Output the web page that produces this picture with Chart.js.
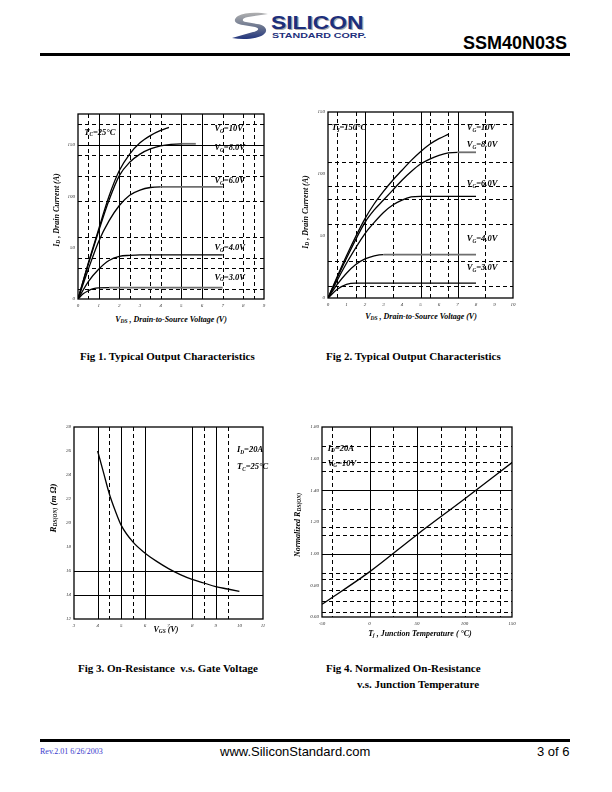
<!DOCTYPE html>
<html>
<head>
<meta charset="utf-8">
<title>SSM40N03S - page 3</title>
<script src="https://cdn.jsdelivr.net/npm/chart.js@4.4.1/dist/chart.umd.min.js"></script>
<style>
  html, body { margin: 0; padding: 0; background: #fff; }
  body { position: relative; width: 612px; height: 792px; overflow: hidden; font-family: "Liberation Serif", "Times New Roman", serif; color: #000; }
  .abs { position: absolute; white-space: nowrap; }
  canvas { position: absolute; }
  .cap { font-weight: bold; font-size: 11px; line-height: 12px; }
  .ttl { font: italic bold 8px "Liberation Serif", serif; line-height: 10px; }
  .ttl sub { font-size: 5.5px; vertical-align: -1px; line-height: 0; }
  .vt { transform: translate(-50%, -50%) rotate(-90deg); }
  .ht { transform: translate(-50%, -50%); }
  .logo1 { font: bold 19px "Liberation Sans", Arial, sans-serif; color: #1d2f7c; transform: scaleX(1.2); transform-origin: 0 0; text-shadow: 1px 1px 0 #a8a8a8; line-height: 19px; }
  .logo2 { font: bold 8px "Liberation Sans", Arial, sans-serif; color: #1d2f7c; transform: scaleX(1.33); transform-origin: 0 0; line-height: 8px; }
</style>
</head>
<body>

<!-- header -->
<svg class="abs" style="left:231px;top:12px" width="38" height="28" viewBox="0 0 38 28">
  <defs>
    <linearGradient id="sw" x1="0" y1="0" x2="0" y2="1">
      <stop offset="0" stop-color="#b0b0b0"/>
      <stop offset="0.5" stop-color="#707a90"/>
      <stop offset="1" stop-color="#22357e"/>
    </linearGradient>
  </defs>
  <path d="M37 2 C27 0 14 0 7 4 C1 8 4 12 12 13 L24 15 C29 16 28 19 22 20 L1 26 C12 28 26 27 32 23 C38 19 35 13 26 12 L15 10 C10 9 11 6 17 5 Z" fill="url(#sw)"/>
</svg>
<div class="abs logo1" style="left:271px;top:13px">SILICON</div>
<div class="abs logo2" style="left:272px;top:32px">STANDARD CORP.</div>
<div class="abs" style="left:463px;top:33px;font:bold 18px 'Liberation Sans', Arial, sans-serif;">SSM40N03S</div>
<div class="abs" style="left:40px;top:53px;width:530px;height:3px;background:#000"></div>

<!-- charts -->
<canvas id="fig1"></canvas>
<canvas id="fig2"></canvas>
<canvas id="fig3"></canvas>
<canvas id="fig4"></canvas>

<!-- axis titles -->
<div class="abs ttl vt" style="left:57px;top:210px">I<sub>D</sub> , Drain Current (A)</div>
<div class="abs ttl ht" style="left:171px;top:320px">V<sub>DS</sub> , Drain-to-Source Voltage (V)</div>
<div class="abs ttl vt" style="left:306px;top:212px">I<sub>D</sub> , Drain Current (A)</div>
<div class="abs ttl ht" style="left:421px;top:317px">V<sub>DS</sub> , Drain-to-Source Voltage (V)</div>
<div class="abs ttl vt" style="left:53px;top:508px;font-size:9px">R<sub>DS(ON)</sub> (m Ω)</div>
<div class="abs ttl ht" style="left:166px;top:630px">V<sub>GS</sub> (V)</div>
<div class="abs ttl vt" style="left:298px;top:525px">Normalized R<sub>DS(ON)</sub></div>
<div class="abs ttl ht" style="left:420px;top:634px">T<sub>j</sub> , Junction Temperature ( °C)</div>

<!-- captions -->
<div class="abs cap" style="left:80px;top:350px">Fig 1. Typical Output Characteristics</div>
<div class="abs cap" style="left:326px;top:350px">Fig 2. Typical Output Characteristics</div>
<div class="abs cap" style="left:78px;top:662px">Fig 3. On-Resistance &nbsp;v.s. Gate Voltage</div>
<div class="abs cap" style="left:326px;top:662px">Fig 4. Normalized On-Resistance</div>
<div class="abs cap" style="left:357px;top:678px">v.s. Junction Temperature</div>

<!-- footer -->
<div class="abs" style="left:40px;top:739px;width:530px;height:3px;background:#000"></div>
<div class="abs" style="left:40px;top:747px;font:8px 'Liberation Serif', serif;color:#3a3acc">Rev.2.01 6/26/2003</div>
<div class="abs" style="left:220px;top:744px;font:13px 'Liberation Sans', Arial, sans-serif">www.SiliconStandard.com</div>
<div class="abs" style="left:537px;top:744px;font:13px 'Liberation Sans', Arial, sans-serif">3 of 6</div>

<script>
// ── Fig 1: output characteristics, Tc = 25 °C ────────────────────────────────
const F1_VDS_10 = [0, 0.5, 1, 1.5, 2, 2.5, 3, 3.5, 4, 4.4];
const F1_ID_10  = [0, 35, 68, 100, 125, 141, 152, 159, 164, 167];
const F1_VDS_8  = [0, 0.5, 1, 1.5, 2, 2.5, 3, 3.5, 4, 4.5, 5, 5.7];
const F1_ID_8   = [0, 34, 66, 96, 120, 133, 141, 146, 149, 150.5, 151, 151];
const F1_VDS_6  = [0, 0.5, 1, 1.5, 2, 2.5, 3, 3.5, 4, 7];
const F1_ID_6   = [0, 29, 56, 76, 91, 101, 106, 108.5, 109, 109];
const F1_VDS_4  = [0, 0.5, 1, 1.5, 2, 2.5, 3, 7];
const F1_ID_4   = [0, 17, 29, 37.5, 41.5, 42.5, 43, 43];
const F1_VDS_3  = [0, 0.25, 0.5, 0.75, 1, 1.5, 7];
const F1_ID_3   = [0, 5, 8, 10, 10.8, 11, 11];

// ── Fig 2: output characteristics, Tj = 150 °C ───────────────────────────────
const F2_VDS_10 = [0, 1, 2, 2.5, 3, 3.5, 4, 4.5, 5, 5.5, 6, 6.5];
const F2_ID_10  = [0, 34, 64, 76, 86, 95, 103, 111, 118, 124, 128.5, 132];
const F2_VDS_8  = [0, 1, 2, 2.5, 3, 3.5, 4, 4.5, 5, 5.5, 6, 6.5, 7, 8];
const F2_ID_8   = [0, 32, 61, 71, 79, 87, 95, 102, 108, 112, 115, 117, 117.5, 117.5];
const F2_VDS_6  = [0, 1, 2, 2.5, 3, 3.5, 4, 4.5, 5, 8];
const F2_ID_6   = [0, 28, 52, 61, 69, 75, 79, 81.5, 82, 82];
const F2_VDS_4  = [0, 0.5, 1, 1.5, 2, 2.5, 3, 8];
const F2_ID_4   = [0, 11, 20, 27, 31.5, 34, 35, 35];
const F2_VDS_3  = [0, 0.5, 1, 1.5, 8];
const F2_ID_3   = [0, 7, 11, 12, 12];

// ── Fig 3: RDS(ON) vs VGS ────────────────────────────────────────────────────
const F3_VGS = [4, 4.25, 4.5, 4.75, 5, 5.5, 6, 6.5, 7, 7.5, 8, 8.5, 9, 9.5, 10];
const F3_RDS = [26, 24.2, 22.4, 21, 19.8, 18.4, 17.5, 16.8, 16.2, 15.7, 15.3, 15.0, 14.7, 14.5, 14.3];

// ── Fig 4: normalized RDS(ON) vs Tj ──────────────────────────────────────────
const F4_TJ   = [-50, 0, 50, 100, 150];
const F4_NORM = [0.68, 0.885, 1.12, 1.345, 1.575];

// grid positions as printed on the sheet (axis values)
const F1_GRID_X_SOLID  = [1, 2, 5, 6];
const F1_GRID_X_DASHED = [0.5, 2.5, 3.5, 4, 7, 8, 8.5];
const F1_GRID_Y_SOLID  = [150];
const F1_GRID_Y_DASHED = [10, 30, 40, 60, 95, 120, 140, 170];
const F2_GRID_X_SOLID  = [2, 5, 7];
const F2_GRID_X_DASHED = [0.5, 1.5, 3.5, 5.5, 6.5, 8.5];
const F2_GRID_Y_DASHED = [10, 30, 60, 80, 90, 110, 140];
const F3_GRID_X_SOLID  = [4, 5, 6, 8, 9];
const F3_GRID_X_DASHED = [4.5, 5.5, 8.5, 9.5];
const F3_GRID_Y_SOLID  = [14, 16];
const F4_GRID_X_SOLID  = [0, 50];
const F4_GRID_X_DASHED = [-39, 25, 75, 100, 112, 137];
const F4_GRID_Y_SOLID  = [1.0, 1.4];
const F4_GRID_Y_DASHED = [0.63, 0.70, 0.77, 0.84, 0.88, 1.12, 1.17, 1.28, 1.52, 1.58, 1.68];

// plot boxes on the page
const RECT1 = { l: 78, t: 114, r: 264, b: 299 };
const RECT2 = { l: 328, t: 112, r: 513, b: 298 };
const RECT3 = { l: 74, t: 427, r: 263, b: 619 };
const RECT4 = { l: 322, t: 427, r: 512, b: 617 };

const YW = 24, XH = 14, PT = 6, PR = 8;
const TICK_FONT = { family: '"Liberation Serif", serif', style: 'italic', size: 5 };
const NOTE_SIZE = 8.5;

function placeCanvas(id, r) {
  const c = document.getElementById(id);
  c.width  = r.r - r.l + YW + PR;
  c.height = r.b - r.t + PT + XH;
  c.style.left = (r.l - YW) + 'px';
  c.style.top  = (r.t - PT) + 'px';
  return c;
}

function curve(xs, ys, grayFlat) {
  return {
    data: xs.map((x, i) => ({ x, y: ys[i] })),
    showLine: true,
    pointRadius: 0,
    borderColor: '#000',
    borderWidth: 1.3,
    cubicInterpolationMode: 'monotone',
    segment: grayFlat ? {
      borderColor: c => c.p0.parsed.y === c.p1.parsed.y ? '#6e6e6e' : undefined,
      borderWidth: c => c.p0.parsed.y === c.p1.parsed.y ? 1.8 : undefined,
    } : {},
  };
}

function axis(isX, min, max, step, fmt, keep) {
  return {
    type: 'linear', min, max,
    grid: { display: false, drawTicks: false },
    border: { display: false },
    afterFit: s => { if (isX) s.height = XH; else s.width = YW; },
    afterBuildTicks: s => { if (keep) s.ticks = s.ticks.filter(t => keep(t.value)); },
    ticks: { stepSize: step, autoSkip: false, maxRotation: 0, padding: isX ? 4 : 3, color: '#333', font: TICK_FONT, callback: fmt },
  };
}

// draws the printed grid, plot frame and in-plot notes
const sheetPlugin = {
  id: 'sheet',
  beforeDatasetsDraw(chart, args, o) {
    const { ctx, chartArea: a, scales: { x, y } } = chart;
    ctx.save();
    ctx.strokeStyle = '#000';
    ctx.lineWidth = 1;
    const vline = (v, dash) => {
      const px = Math.round(x.getPixelForValue(v)) + 0.5;
      ctx.setLineDash(dash);
      ctx.beginPath(); ctx.moveTo(px, a.top); ctx.lineTo(px, a.bottom); ctx.stroke();
    };
    const hline = (v, dash) => {
      const py = Math.round(y.getPixelForValue(v)) + 0.5;
      ctx.setLineDash(dash);
      ctx.beginPath(); ctx.moveTo(a.left, py); ctx.lineTo(a.right, py); ctx.stroke();
    };
    (o.xd || []).forEach(v => vline(v, [4, 3]));
    (o.yd || []).forEach(v => hline(v, [4, 3]));
    (o.xs || []).forEach(v => vline(v, []));
    (o.ys || []).forEach(v => hline(v, []));
    ctx.restore();
  },
  afterDatasetsDraw(chart, args, o) {
    const { ctx, chartArea: a, scales: { x, y } } = chart;
    ctx.save();
    ctx.strokeStyle = '#000';
    ctx.lineWidth = 1.3;
    ctx.strokeRect(a.left, a.top, a.right - a.left, a.bottom - a.top);
    ctx.fillStyle = '#000';
    ctx.textBaseline = 'middle';
    (o.notes || []).forEach(n => {
      let cx = x.getPixelForValue(n.x);
      const cy = y.getPixelForValue(n.y);
      n.parts.forEach(([txt, sub]) => {
        ctx.font = `italic bold ${sub ? NOTE_SIZE * 0.62 : NOTE_SIZE}px "Liberation Serif", serif`;
        ctx.fillText(txt, cx, sub ? cy + NOTE_SIZE * 0.3 : cy);
        cx += ctx.measureText(txt).width;
      });
    });
    ctx.restore();
  },
};

function makeChart(id, rect, datasets, xAxis, yAxis, sheet) {
  return new Chart(placeCanvas(id, rect), {
    type: 'scatter',
    data: { datasets },
    options: {
      responsive: false,
      animation: false,
      layout: { padding: { top: PT, right: PR, left: 0, bottom: 0 } },
      scales: { x: xAxis, y: yAxis },
      plugins: { legend: { display: false }, tooltip: { enabled: false }, sheet },
    },
    plugins: [sheetPlugin],
  });
}

const vg = (x, y, tail) => ({ x, y, parts: [['V', 0], ['G', 1], [tail, 0]] });
const intFmt = v => String(v);

makeChart('fig1', RECT1,
  [
    curve(F1_VDS_10, F1_ID_10, false),
    curve(F1_VDS_8, F1_ID_8, true),
    curve(F1_VDS_6, F1_ID_6, true),
    curve(F1_VDS_4, F1_ID_4, false),
    curve(F1_VDS_3, F1_ID_3, true),
  ],
  axis(true, 0, 9, 1, intFmt),
  axis(false, 0, 180, 50, intFmt, v => v % 50 === 0),
  {
    xs: F1_GRID_X_SOLID, xd: F1_GRID_X_DASHED, ys: F1_GRID_Y_SOLID, yd: F1_GRID_Y_DASHED,
    notes: [
      { x: 0.3, y: 162, parts: [['T', 0], ['C', 1], ['=25°C', 0]] },
      vg(6.6, 165.5, '=10V'), vg(6.6, 147, '=8.0V'), vg(6.6, 115, '=6.0V'),
      vg(6.6, 50, '=4.0V'), vg(6.6, 21, '=3.0V'),
    ],
  });

makeChart('fig2', RECT2,
  [
    curve(F2_VDS_10, F2_ID_10, false),
    curve(F2_VDS_8, F2_ID_8, true),
    curve(F2_VDS_6, F2_ID_6, false),
    curve(F2_VDS_4, F2_ID_4, true),
    curve(F2_VDS_3, F2_ID_3, false),
  ],
  axis(true, 0, 10, 1, intFmt),
  axis(false, 0, 150, 50, intFmt),
  {
    xs: F2_GRID_X_SOLID, xd: F2_GRID_X_DASHED, yd: F2_GRID_Y_DASHED,
    notes: [
      { x: 0.2, y: 137, parts: [['T', 0], ['J', 1], ['=150°C', 0]] },
      vg(7.5, 137, '=10V'), vg(7.5, 123.5, '=8.0V'), vg(7.5, 92, '=6.0V'),
      vg(7.5, 47.5, '=4.0V'), vg(7.5, 24.5, '=3.0V'),
    ],
  });

makeChart('fig3', RECT3,
  [curve(F3_VGS, F3_RDS, false)],
  axis(true, 3, 11, 1, intFmt),
  axis(false, 12, 28, 2, intFmt),
  {
    xs: F3_GRID_X_SOLID, xd: F3_GRID_X_DASHED, ys: F3_GRID_Y_SOLID,
    notes: [
      { x: 9.9, y: 26.1, parts: [['I', 0], ['D', 1], ['=20A', 0]] },
      { x: 9.9, y: 24.7, parts: [['T', 0], ['C', 1], ['=25°C', 0]] },
    ],
  });

makeChart('fig4', RECT4,
  [curve(F4_TJ, F4_NORM, false)],
  axis(true, -50, 150, 50, intFmt),
  axis(false, 0.6, 1.8, 0.2, v => v.toFixed(2)),
  {
    xs: F4_GRID_X_SOLID, xd: F4_GRID_X_DASHED, ys: F4_GRID_Y_SOLID, yd: F4_GRID_Y_DASHED,
    notes: [
      { x: -44, y: 1.664, parts: [['I', 0], ['D', 1], ['=20A', 0]] },
      vg(-44, 1.57, '=10V'),
    ],
  });
</script>
</body>
</html>
